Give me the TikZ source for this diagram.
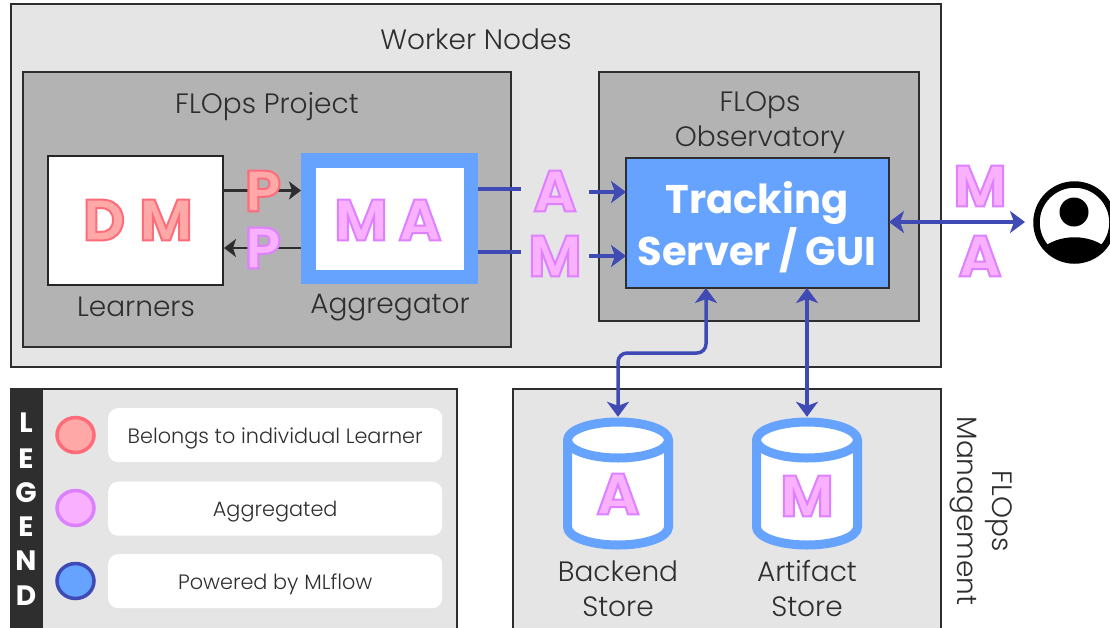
\documentclass[tikz,border=0pt]{standalone}
\usepackage{fontspec}
\setmainfont{Poppins}[UprightFont=* Light,BoldFont=* Bold]
\usetikzlibrary{arrows.meta,shapes.geometric}
\definecolor{panel}{HTML}{E5E5E5}
\definecolor{inner}{HTML}{B3B3B3}
\definecolor{edge}{HTML}{2E2E2E}
\definecolor{mlblue}{HTML}{66A3FF}
\definecolor{mlline}{HTML}{3F4AB5}
\definecolor{pinkfill}{HTML}{F8B0FF}
\definecolor{pinkline}{HTML}{DD80FF}
\definecolor{redfill}{HTML}{FFA8A8}
\definecolor{redline}{HTML}{FF6B78}
\newcommand{\lettersz}{\fontsize{58}{58}\selectfont\bfseries}
\newcommand{\pinktext}[1]{{\color{pinkfill}\special{pdf:code 2 Tr 2 w 0.87 0.5 1 RG}#1\special{pdf:code 0 Tr}}}
\newcommand{\redtext}[1]{{\color{redfill}\special{pdf:code 2 Tr 2 w 1 0.42 0.47 RG}#1\special{pdf:code 0 Tr}}}
\tikzset{
 framebox/.style={draw=edge,line width=2.4pt,anchor=north west,inner sep=0pt,outer sep=0pt},
 pinkletter/.style={inner sep=0pt,font=\lettersz},
 lbl/.style={text=edge,font=\fontsize{28}{35}\selectfont,align=center,inner sep=0pt},
 legtext/.style={fill=white,rounded corners=10pt,anchor=north west,minimum width=334pt,minimum height=54pt,inner sep=0pt,text=edge,text height=16pt,text depth=0pt,font=\fontsize{20.8}{24}\selectfont},
 legletter/.style={text=white,font=\fontsize{28}{28}\selectfont\bfseries,inner sep=0pt},
 legdot/.style={ellipse,line width=3.5pt,minimum width=37pt,minimum height=35pt,inner sep=0pt},
 flow/.style={draw=mlline,line width=3.5pt,rounded corners=9pt},
 bluetip/.style={-{Stealth[length=15pt,width=22pt,inset=4pt]}},
 bluetips/.style={{Stealth[length=15pt,width=22pt,inset=4pt]}-{Stealth[length=15pt,width=22pt,inset=4pt]}},
 darkflow/.style={draw=edge,line width=2.6pt,-{Stealth[length=12pt,width=18pt,inset=3pt]}},
}
\newcommand{\storeshape}[1]{%
 \fill[white] (#1-50.5,440) -- (#1-50.5,527) .. controls (#1-50.5,537) and (#1-27.9,545) .. (#1,545) .. controls (#1+27.9,545) and (#1+50.5,537) .. (#1+50.5,527) -- (#1+50.5,440) .. controls (#1+50.5,430) and (#1+27.9,422) .. (#1,422) .. controls (#1-27.9,422) and (#1-50.5,430) .. (#1-50.5,440) -- cycle;
 \draw[mlblue,line width=9pt,line join=round] (#1-50.5,440) -- (#1-50.5,527) .. controls (#1-50.5,537) and (#1-27.9,545) .. (#1,545) .. controls (#1+27.9,545) and (#1+50.5,537) .. (#1+50.5,527) -- (#1+50.5,440) .. controls (#1+50.5,430) and (#1+27.9,422) .. (#1,422) .. controls (#1-27.9,422) and (#1-50.5,430) .. (#1-50.5,440) .. controls (#1-50.5,450) and (#1-27.9,458) .. (#1,458) .. controls (#1+27.9,458) and (#1+50.5,450) .. (#1+50.5,440);
}
\begin{document}
\begin{tikzpicture}[x=1pt,y=-1pt]
\useasboundingbox (0,0) rectangle (1110,627);
% panels
\node[framebox,fill=panel,minimum width=930pt,minimum height=363pt] (worker) at (11,4) {};
\node[framebox,fill=inner,minimum width=488pt,minimum height=275pt] (project) at (23,72) {};
\node[framebox,fill=inner,minimum width=320pt,minimum height=249pt] (observatory) at (599,72) {};
\node[framebox,fill=panel,minimum width=446pt,minimum height=240pt] (legend) at (11,389) {};
\node[framebox,fill=panel,minimum width=428pt,minimum height=240pt] (management) at (513,389) {};
\node[framebox,fill=edge,minimum width=31pt,minimum height=240pt] (legendbar) at (11,389) {};
\node[lbl] (workertitle) at (476,39) {Worker Nodes};
\node[lbl] (projecttitle) at (267,107) {FLOps Project};
\node[lbl] (obstitle) at (760,123) {FLOps\\Observatory};
% learners
\node[framebox,draw=black!85,fill=white,minimum width=175pt,minimum height=129pt] (learners) at (48,156) {};
\node[pinkletter] (ld) at (104,220) {\redtext{D}};
\node[pinkletter] (lm) at (166,220) {\redtext{M}};
\node[lbl] (learnerslbl) at (136,307) {Learners};
% aggregator
\node[draw=mlblue,line width=14.5pt,fill=white,anchor=north west,inner sep=0pt,outer sep=7.25pt,minimum width=162.5pt,minimum height=116.5pt] (aggregator) at (301,153) {};
\node[pinkletter] (am) at (361,220) {\pinktext{M}};
\node[pinkletter] (aa) at (420,220) {\pinktext{A}};
\node[lbl] (agglbl) at (390,308) {Aggregator};
% tracking
\node[framebox,fill=mlblue,minimum width=263pt,minimum height=130pt] (tracking) at (626,158) {};
\node[text=white,font=\fontsize{40}{52}\selectfont\bfseries,align=center,inner sep=0pt] (trackinglbl) at (757,227) {Tracking\\Server / GUI};
% P connectors
\coordinate (lt) at (223,190.5); \coordinate (at) at (301,190.5);
\coordinate (ab) at (301,248); \coordinate (lb) at (224,248);
\draw[darkflow] (lt) -- (at);
\draw[darkflow] (ab) -- (lb);
\node[pinkletter] (pa) at (263,191) {\redtext{P}};
\node[pinkletter] (pb) at (263,248) {\pinktext{P}};
% metric flows
\node[pinkletter] (fa) at (555,191) {\pinktext{A}};
\node[pinkletter] (fm) at (555,256) {\pinktext{M}};
\coordinate (oa) at (478,189); \coordinate (ea) at (521,189);
\coordinate (sa) at (589,192); \coordinate (ta) at (626,192);
\coordinate (om) at (478,252); \coordinate (em) at (521,252);
\coordinate (sm) at (589,256); \coordinate (tm) at (626,256);
\draw[flow] (oa) -- (ea);
\draw[flow,bluetip] (sa) -- (ta);
\draw[flow] (om) -- (em);
\draw[flow,bluetip] (sm) -- (tm);
% person
\node[circle,draw=black,fill=white,line width=6.5pt,minimum size=76pt,inner sep=0pt,outer sep=3.25pt] (user) at (1074.5,222.5) {};
\begin{scope}
\clip (1074.5,222.5) circle[radius=38];
\fill[black] (1040,250) .. controls (1058,233) and (1091,233) .. (1109,250) -- (1109,270) -- (1040,270) -- cycle;
\end{scope}
\fill[black] (1074,212) circle[radius=14.5];
\node[pinkletter] (um) at (980,186) {\pinktext{M}};
\node[pinkletter] (ua) at (980,256) {\pinktext{A}};
\coordinate (tr) at (889,222); \coordinate (ur) at (1025,222);
\draw[flow,bluetips] (tr) -- (ur);
% stores
\storeshape{618}
\storeshape{807}
\node[inner sep=0pt,minimum width=110pt,minimum height=132pt] (backend) at (618,483) {};
\node[inner sep=0pt,minimum width=110pt,minimum height=132pt] (artifact) at (807,483) {};
\node[pinkletter] (ba) at (618,494) {\pinktext{A}};
\node[pinkletter] (bm) at (807,496) {\pinktext{M}};
\node[lbl] (backendlbl) at (618,589) {Backend\\Store};
\node[lbl] (artifactlbl) at (807,589) {Artifact\\Store};
\node[lbl,rotate=-90] (mgmtlbl) at (981,511) {FLOps\\Management};
\coordinate (tb) at (706,288); \coordinate (ta2) at (807,288);
\draw[flow,bluetips] (tb) -- (706,353) -- (618,353) -- (backend.north);
\draw[flow,bluetips] (ta2) -- (artifact.north);
% legend
\foreach \n/\l/\y in {a/L/423,b/E/459,c/G/493,d/E/527,e/N/561,f/D/596}
  \node[legletter] (leg\n) at (26,\y) {\l};
\node[legdot,draw=redline,fill=redfill] (dot1) at (75.5,435) {};
\node[legdot,draw=pinkline,fill=pinkfill] (dot2) at (75.5,508) {};
\node[legdot,draw=mlline,fill=mlblue] (dot3) at (75.5,581) {};
\node[legtext] (leg1) at (108,408) {Belongs to individual Learner};
\node[legtext] (leg2) at (108,481.5) {Aggregated};
\node[legtext] (leg3) at (108,554) {Powered by MLflow};
\end{tikzpicture}
\end{document}
